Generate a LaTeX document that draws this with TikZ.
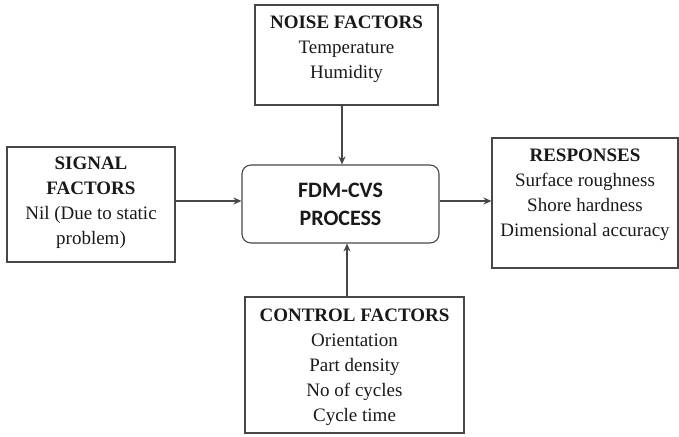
\documentclass[tikz,border=0pt]{standalone}
\usepackage{fontspec}
\setmainfont{Liberation Serif}
\newfontfamily\procfont{Carlito}
\usetikzlibrary{arrows.meta}
\begin{document}
\begin{tikzpicture}[x=1pt,y=-1pt,
  frame/.style={draw=black!72, line width=1.1pt, inner sep=0pt, anchor=center},
  label/.style={align=center, font=\fontsize{19}{25}\selectfont, inner sep=0pt, text=black!90},
  arr/.style={draw=black!72, line width=1.1pt, -{Stealth[length=8pt,width=7pt]}}]
\useasboundingbox (0,0) rectangle (679,436);

% boxes
\node[frame, minimum width=183pt, minimum height=100pt] (noise) at (346.5,55) {};
\node[frame, minimum width=168pt, minimum height=115pt] (signal) at (91,204.5) {};
\node[frame, minimum width=186pt, minimum height=130pt] (resp) at (585,203) {};
\node[frame, minimum width=219pt, minimum height=136pt] (ctrl) at (354.5,365) {};
\node[frame, rounded corners=9pt, minimum width=197pt, minimum height=78pt] (proc) at (340.5,204) {};

% texts
\node[label] (noiseT) at (346.5,49.5) {\textbf{NOISE FACTORS}\\Temperature\\Humidity};
\node[label] (signalT) at (91,202.5) {\textbf{SIGNAL}\\\textbf{FACTORS}\\Nil (Due to static\\problem)};
\node[label] (respT) at (585,194.5) {\textbf{RESPONSES}\\Surface roughness\\Shore hardness\\Dimensional accuracy};
\node[label] (ctrlT) at (354.5,367) {\textbf{CONTROL FACTORS}\\Orientation\\Part density\\No of cycles\\Cycle time};
\node[align=center, inner sep=0pt, text=black!90, font=\procfont\bfseries\fontsize{22}{28}\selectfont] (procT) at (340.5,204) {FDM-CVS\\PROCESS};

% connectors
\draw[arr] ([xshift=-4.5pt]noise.south) -- ([xshift=-4.5pt]noise.south |- proc.north);
\draw[arr] ([xshift=-7.5pt]ctrl.north) -- ([xshift=-7.5pt]ctrl.north |- proc.south);
\draw[arr] ([yshift=3.5pt]signal.east) -- ([yshift=3.5pt]signal.east -| proc.west);
\draw[arr] ([yshift=3pt]proc.east) -- ([yshift=3pt]proc.east -| resp.west);
\end{tikzpicture}
\end{document}
